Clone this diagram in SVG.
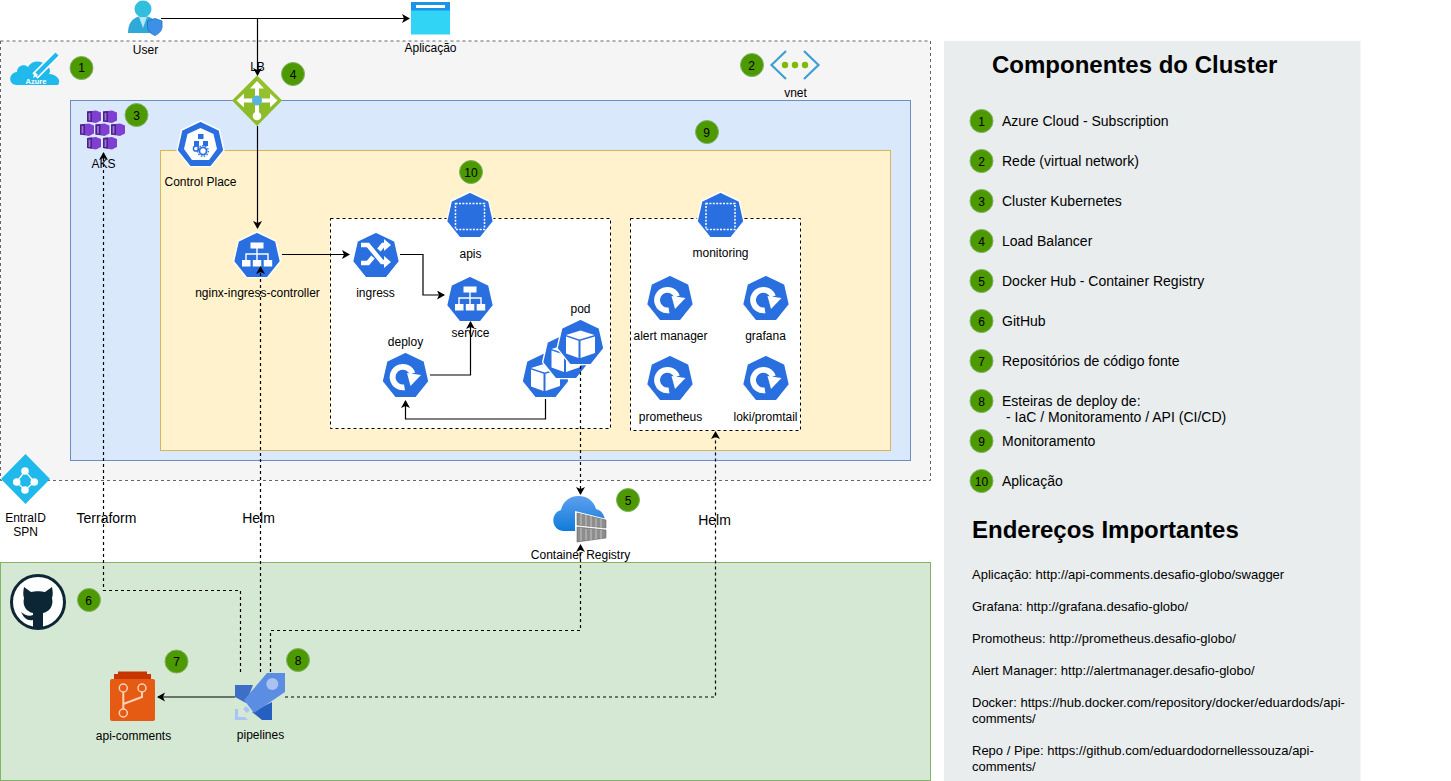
<svg xmlns="http://www.w3.org/2000/svg" width="1451" height="781" viewBox="0 0 1451 781">
<style>
text{font-family:"Liberation Sans",Arial,sans-serif;font-size:12px;fill:#000}
.c{text-anchor:middle}
.l{font-size:14px}
.a{font-size:13px}
.t{font-size:24px;font-weight:bold}
.m{font-size:14px}
.b{fill:#4d9900;stroke:#82b366;stroke-width:1}
.w{fill:none;stroke:#000;stroke-width:1.2}
.d{fill:none;stroke:#000;stroke-width:1.2;stroke-dasharray:3 3}
.h{fill:#2a6fdf;stroke:#fff;stroke-width:1.4;stroke-linejoin:round}
.i{fill:#fff}
.s{fill:none;stroke:#fff}
.r{fill:none;stroke:#ffd0b5;stroke-width:1.5}
.ib{fill:#7f3fd1}
.id{fill:#4b2382}
.ct{fill:#8d8d8d;stroke:#555;stroke-width:.5}
</style>
<defs>
<marker id="ar" markerWidth="10" markerHeight="10" refX="7" refY="4.500" orient="auto" markerUnits="userSpaceOnUse"><path d="M0 0L8 4.500L0 9L2 4.500Z" fill="#000"/></marker>
<linearGradient id="cl" x1="0" y1="0" x2="0" y2="1"><stop offset="0" stop-color="#5ea0ef"/><stop offset="1" stop-color="#0f7bd8"/></linearGradient>
<polygon id="hep" points="0,-24 18.8,-15 23.4,5.4 10.4,21.6 -10.4,21.6 -23.4,5.4 -18.8,-15"/>
<g id="net"><use href="#hep" class="h"/><rect class="i" x="-6.500" y="-13.500" width="13" height="6"/><rect class="i" x="-15" y="4" width="8.500" height="6.500"/><rect class="i" x="-4.200" y="4" width="8.500" height="6.500"/><rect class="i" x="6.700" y="4" width="8.500" height="6.500"/><path class="s" stroke-width="1.400" d="M0-8V4M-11 4V-2H11V4"/></g>
<g id="rot"><use href="#hep" class="h"/><path class="s" stroke-width="5.800" d="M-1 11.300A10.300 10.300 0 1 1 7-2.500"/><path class="i" d="M1.500-3L15.500-1L5 10Z"/></g>
<g id="pod"><use href="#hep" class="h"/><path d="M0-12.500L14-8L-1-3.500L-14.500-8Z" class="i"/><path d="M-14.500-6.500L-2-2.200V15L-14.500 10.500Z" class="i"/><path d="M0-2.200L14.500-6.500V10L0 15Z" class="i"/></g>
<g id="ns"><use href="#hep" class="h"/><rect x="-14.500" y="-12.500" width="29" height="26" fill="none" stroke="#fff" stroke-width="1.500" stroke-dasharray="2 1.400"/></g>
<g id="kb"><polygon class="ib" points="0,1 9,0 14,2 14,10 9,12.500 0,11"/><polygon class="id" points="0,1 5,.4 5,11.600 0,11"/><rect x="1.600" y="2.500" width="1.800" height="7.500" fill="#a06ee8"/></g>
</defs>

<g id="zones">
<rect x="0.500" y="41" width="930" height="439.500" fill="#f5f5f5" stroke="#666" stroke-dasharray="3 3"/>
<rect x="70.500" y="100.500" width="840" height="360" fill="#dae8fc" stroke="#6c8ebf"/>
<rect x="160.500" y="150.500" width="730" height="300" fill="#fff2cc" stroke="#d6b656"/>
<rect x="330.500" y="218.500" width="280" height="210" fill="#fff" stroke="#000" stroke-dasharray="3 3"/>
<rect x="630.500" y="218.500" width="170" height="212" fill="#fff" stroke="#000" stroke-dasharray="3 3"/>
<rect x="0.500" y="562.500" width="930" height="218" fill="#d5e8d4" stroke="#82b366"/>
<rect x="944" y="41" width="416.500" height="740" fill="#e9edee"/>
</g>

<g id="user"><path d="M128 33C128 21 135 16 143 16C152 16 158 21 158 33Z" fill="#2fa9d8"/><circle cx="143" cy="9" r="8.500" fill="#32bedd"/><path d="M139 17H147L143 28Z" fill="#b3e8f5"/><path d="M147.500 21L155 18.500L162 21V27C162 31 158 34 155 35.500C151 34 147.500 31 147.500 27Z" fill="#3c91e6" stroke="#1b6ec2" stroke-width=".8"/><text class="c" x="145.500" y="54">User</text></g>
<g id="app"><rect x="411" y="2" width="39" height="32.500" fill="#32d4f5"/><rect x="411" y="2" width="39" height="8.500" fill="#1b93eb"/><rect x="416" y="5" width="29" height="3" fill="#fff"/><text class="c" x="430.500" y="52">Aplicação</text></g>
<g id="azure"><path d="M17 85C8 85 8 73 17 72C17 66 24 63 28 67C32 60 42 60 46 66C50 67 51 71 49 74C56 74 62 80 58 85Z" fill="#1fb9ec"/><path d="M35 76L57 54" stroke="#fff" stroke-width="7.500" fill="none"/><path d="M36 75L57 54" stroke="#1fb9ec" stroke-width="4.500" fill="none"/><path d="M33 78L35 72L38 75Z" fill="#fff"/><text class="c" x="36" y="84" style="font-size:7.500px;font-weight:bold;fill:#fff">Azure</text><circle cx="81.500" cy="68" r="11.500" class="b"/><text class="c" x="81.500" y="72">1</text></g>
<g id="vnet"><path d="M786 51L771.500 65L786 79M804 51L818.500 65L804 79" fill="none" stroke="#3f9fcf" stroke-width="2.200"/><circle cx="785" cy="65" r="3.200" fill="#7fba00"/><circle cx="795" cy="65" r="3.200" fill="#7fba00"/><circle cx="805" cy="65" r="3.200" fill="#7fba00"/><text class="c" x="795.500" y="97">vnet</text><circle cx="752" cy="65" r="11.500" class="b"/><text class="c" x="751.500" y="70">2</text></g>
<g id="aks"><use href="#kb" x="87" y="110.500"/><use href="#kb" x="103" y="110.500"/><use href="#kb" x="80" y="123.500"/><use href="#kb" x="95.500" y="123.500"/><use href="#kb" x="111" y="123.500"/><use href="#kb" x="87" y="137"/><use href="#kb" x="103" y="137"/><text class="c" x="103.500" y="168">AKS</text><circle cx="136.500" cy="115" r="11.500" class="b"/><text class="c" x="136.500" y="120">3</text></g>
<g id="lb"><path d="M257 75.500L282 100.500L257 126L232 100.500Z" fill="#8cbc28"/><path d="M257 75.500L282 100.500H257Z" fill="#95c22c"/><path class="s" stroke-width="4" d="M257 86V112M243 100.500H271"/><path class="i" d="M257 81L264 88.500H250ZM236.500 100.500L244 93.500V107.500ZM277.500 100.500L270 93.500V107.500Z"/><circle cx="257" cy="116" r="4.300" fill="#fff"/><circle cx="257" cy="100.500" r="5" fill="#59b4d9"/><text class="c" x="257.500" y="71">LB</text><circle cx="293" cy="74" r="11.500" class="b"/><text class="c" x="293" y="79">4</text></g>
<g id="control"><use href="#hep" class="h" x="200.500" y="145"/><polygon class="i" points="200.500,128 213.500,134 217,149 209,160 192,160 184,149 187.500,134"/><g fill="#2a6fdf"><rect x="198" y="134" width="5.500" height="5"/><rect x="194" y="141" width="5" height="5"/><rect x="203" y="141" width="5" height="5"/></g><circle cx="203" cy="151" r="3.600" fill="none" stroke="#2a6fdf" stroke-width="1.800"/><circle cx="203" cy="151" r="5.400" fill="none" stroke="#2a6fdf" stroke-width="1.300" stroke-dasharray="1.500 1.500"/><circle cx="196" cy="148.500" r="2.600" fill="none" stroke="#2a6fdf" stroke-width="1.500"/><text class="c" x="200.500" y="186">Control Place</text></g>
<g id="nginx"><use href="#net" x="257" y="256"/><text class="c" x="257.500" y="297">nginx-ingress-controller</text></g>
<g id="ingress"><use href="#hep" class="h" x="376" y="256"/><path class="s" stroke-width="4.500" d="M361 245H368L382 262H386M361 263H368L373 257M379 250L383 245H386"/><path class="i" d="M384 256L391 262L384 268ZM384 239L391 245L384 251Z"/><text class="c" x="375.500" y="297">ingress</text></g>
<g id="service"><use href="#net" x="470" y="300"/><text class="c" x="470.500" y="337">service</text></g>
<g id="deploy"><use href="#rot" x="405.500" y="376"/><text class="c" x="405.500" y="346">deploy</text></g>
<g id="pods"><use href="#pod" x="545.500" y="376"/><use href="#pod" x="566" y="357"/><use href="#pod" x="580.500" y="343"/><text class="c" x="580.500" y="313">pod</text></g>
<g id="apis"><use href="#ns" x="470" y="216"/><text class="c" x="470.500" y="258">apis</text><circle cx="471" cy="172" r="11.500" class="b"/><text class="c" x="471" y="177">10</text></g>
<g id="monitoring"><use href="#ns" x="720.500" y="216"/><text class="c" x="720.500" y="257">monitoring</text><circle cx="707" cy="132" r="11.500" class="b"/><text class="c" x="706.500" y="137">9</text></g>
<g id="alert"><use href="#rot" x="670" y="299"/><text class="c" x="670.500" y="340">alert manager</text></g>
<g id="grafana"><use href="#rot" x="766" y="299"/><text class="c" x="765.500" y="340">grafana</text></g>
<g id="prometheus"><use href="#rot" x="670" y="379"/><text class="c" x="670.500" y="421">prometheus</text></g>
<g id="loki"><use href="#rot" x="766" y="379"/><text class="c" x="765.500" y="421">loki/promtail</text></g>
<g id="entra"><path d="M25.500 454L50 479L25.500 504L1 479Z" fill="#1fb9ec"/><path d="M25 471L16.700 482L25 490L34.300 482Z" fill="none" stroke="#fff" stroke-width="1.300"/><circle cx="25" cy="471" r="3.800" fill="#fff"/><circle cx="16.700" cy="482" r="3.800" fill="#fff"/><circle cx="34.300" cy="482" r="3.800" fill="#fff"/><circle cx="25" cy="490" r="3.800" fill="#fff"/><text class="c" x="25.500" y="522">EntraID</text><text class="c" x="25.500" y="536">SPN</text></g>
<g id="registry"><path d="M563 531C551 530 550 513 561 510C565 491 592 492 596 509C605 511 607 522 603 531Z" fill="url(#cl)"/><path d="M575 511L607 519V543H575Z" fill="#fff"/><path class="ct" d="M577 513L606 520V528L577 525Z"/><path class="ct" d="M577 527L606 530V538L577 542Z"/><path d="M581 514V525M586 515V526M591 516V527M596 518V527M601 519V528M581 528V541M586 529V540M591 529V540M596 529V539M601 530V539" stroke="#bbb" stroke-width="1.200" fill="none"/><text class="c" x="580.500" y="559">Container Registry</text><circle cx="628" cy="500" r="11.500" class="b"/><text class="c" x="628" y="505">5</text></g>
<g id="github"><circle cx="38" cy="602" r="26.500" fill="#fff" stroke="#0d2636" stroke-width="3"/><path d="M24 587L31 592C35 591 41 591 45 592L52 587C53 592 53 595 52 598C54 606 49 612 43 613V628H33V620C27 621 24 618 21 612C25 615 29 617 33 615V613C27 612 22 606 24 598C23 595 23 592 24 587Z" fill="#0d2636"/></g>
<g id="b6"><circle cx="89" cy="600" r="11.500" class="b"/><text class="c" x="88.500" y="605">6</text></g>
<g id="repo"><rect x="118" y="671.500" width="29" height="4" fill="#c73500"/><rect x="114" y="674" width="37" height="6" fill="#c73500"/><rect x="110" y="679" width="45" height="42" rx="2" fill="#e55b13"/><circle cx="123.300" cy="688" r="4" class="r"/><circle cx="142" cy="688" r="4" class="r"/><circle cx="123.300" cy="713" r="4" class="r"/><path d="M123.300 692V709M123.300 704L142 697V692" fill="none" stroke="#ffd0b5" stroke-width="2"/><text class="c" x="133.500" y="740">api-comments</text><circle cx="176.500" cy="661.500" r="11.500" class="b"/><text class="c" x="176.500" y="666">7</text></g>
<g id="pipelines"><path d="M235 685H253L246 703L235 697Z" fill="#3e6fc7"/><path d="M252 712L272 702V720H262Z" fill="#2560c0"/><path d="M267 673H285V692L254 713L244 700Z" fill="#5b8de3"/><circle cx="272.300" cy="684" r="6" fill="#a9c2f2"/><path d="M235 709V720H248L245 717H238V709Z" fill="#a9c4f5"/><path d="M246 706L250 710L247 713L243 709Z" fill="#a9c4f5"/><text class="c" x="260.500" y="739">pipelines</text><circle cx="298" cy="660" r="11.500" class="b"/><text class="c" x="298" y="665">8</text></g>
<g id="labels"><text class="c m" x="106.500" y="523">Terraform</text><text class="c m" x="258.500" y="523">Helm</text><text class="c m" x="714.500" y="525">Helm</text></g>

<g id="connectors">
<path class="w" d="M161 18.500H409" marker-end="url(#ar)"/>
<path class="w" d="M257.500 18.500V75" marker-end="url(#ar)"/>
<path class="w" d="M257.500 126V228" marker-end="url(#ar)"/>
<path class="w" d="M282 254.500H349" marker-end="url(#ar)"/>
<path class="w" d="M400 254.500H423V295H444" marker-end="url(#ar)"/>
<path class="w" d="M430 375H470.500V322" marker-end="url(#ar)"/>
<path class="w" d="M545.500 399V419H405.500V401" marker-end="url(#ar)"/>
<path class="d" d="M580.500 366V494" marker-end="url(#ar)"/>
<path class="d" d="M270.500 672V630.500H580.500V545" marker-end="url(#ar)"/>
<path class="d" d="M240.500 672V590.500H103.500V153" marker-end="url(#ar)"/>
<path class="d" d="M260.500 672V267" marker-end="url(#ar)"/>
<path class="d" d="M285 697H715.500V432" marker-end="url(#ar)"/>
<path class="w" d="M235 697H158" marker-end="url(#ar)"/>
</g>

<g id="legend">
<text class="t" x="992" y="73">Componentes do Cluster</text>
<g id="item1"><circle cx="981.500" cy="121" r="11.500" class="b"/><text class="c" x="981.500" y="126">1</text><text class="l" x="1002" y="126">Azure Cloud - Subscription</text></g>
<g id="item2"><circle cx="981.500" cy="161" r="11.500" class="b"/><text class="c" x="981.500" y="166">2</text><text class="l" x="1002" y="166">Rede (virtual network)</text></g>
<g id="item3"><circle cx="981.500" cy="201" r="11.500" class="b"/><text class="c" x="981.500" y="206">3</text><text class="l" x="1002" y="206">Cluster Kubernetes</text></g>
<g id="item4"><circle cx="981.500" cy="241" r="11.500" class="b"/><text class="c" x="981.500" y="246">4</text><text class="l" x="1002" y="246">Load Balancer</text></g>
<g id="item5"><circle cx="981.500" cy="281" r="11.500" class="b"/><text class="c" x="981.500" y="286">5</text><text class="l" x="1002" y="286">Docker Hub - Container Registry</text></g>
<g id="item6"><circle cx="981.500" cy="321" r="11.500" class="b"/><text class="c" x="981.500" y="326">6</text><text class="l" x="1002" y="326">GitHub</text></g>
<g id="item7"><circle cx="981.500" cy="361" r="11.500" class="b"/><text class="c" x="981.500" y="366">7</text><text class="l" x="1002" y="366">Repositórios de código fonte</text></g>
<g id="item8"><circle cx="981.500" cy="401" r="11.500" class="b"/><text class="c" x="981.500" y="406">8</text><text class="l" x="1002" y="406">Esteiras de deploy de:</text><text class="l" x="1006" y="422">- IaC / Monitoramento / API (CI/CD)</text></g>
<g id="item9"><circle cx="981.500" cy="441" r="11.500" class="b"/><text class="c" x="981.500" y="446">9</text><text class="l" x="1002" y="446">Monitoramento</text></g>
<g id="item10"><circle cx="981.500" cy="481" r="11.500" class="b"/><text class="c" x="981.500" y="486">10</text><text class="l" x="1002" y="486">Aplicação</text></g>
<text class="t" x="972" y="538">Endereços Importantes</text>
<text class="a" x="972" y="579">Aplicação: http://api-comments.desafio-globo/swagger</text>
<text class="a" x="972" y="611">Grafana: http://grafana.desafio-globo/</text>
<text class="a" x="972" y="643">Promotheus: http://prometheus.desafio-globo/</text>
<text class="a" x="972" y="675">Alert Manager: http://alertmanager.desafio-globo/</text>
<text class="a" x="972" y="707">Docker: https://hub.docker.com/repository/docker/eduardods/api-</text>
<text class="a" x="972" y="723">comments/</text>
<text class="a" x="972" y="755">Repo / Pipe: https://github.com/eduardodornellessouza/api-</text>
<text class="a" x="972" y="771">comments/</text>
</g>
</svg>
